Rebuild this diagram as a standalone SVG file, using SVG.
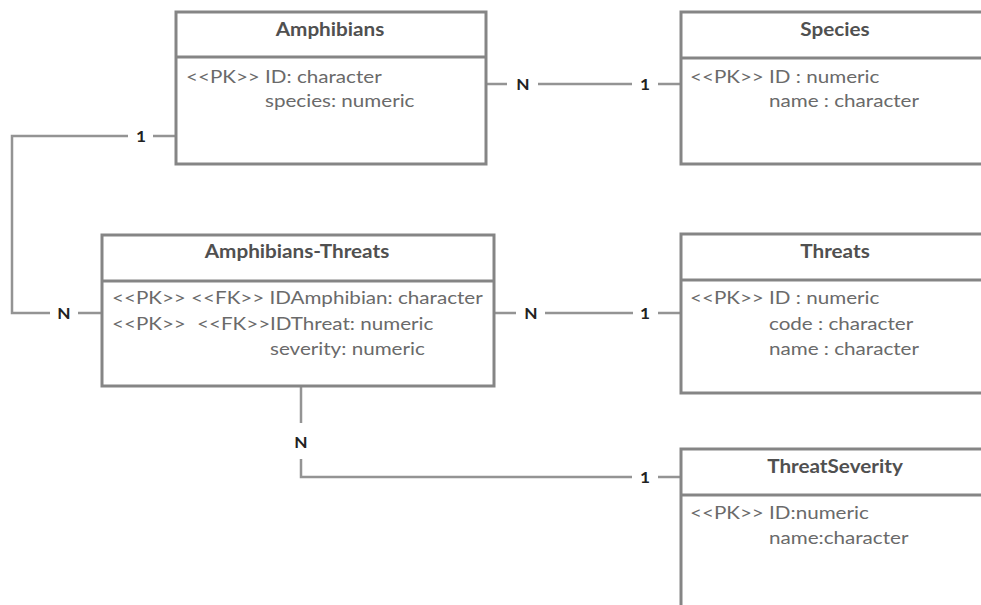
<svg xmlns="http://www.w3.org/2000/svg" width="981" height="605" viewBox="0 0 981 605">
<style>
.box{fill:#fff;stroke:#858585;stroke-width:3}
.div{stroke:#858585;stroke-width:3}
.hdr{font-family:Lato,"Liberation Sans",sans-serif;font-size:18px;font-weight:bold;fill:#505050;text-anchor:middle}
.att{font-family:Lato,"Liberation Sans",sans-serif;font-size:16.5px;fill:#6a6a6a}
.con{fill:none;stroke:#949494;stroke-width:2.5}
.lbl{font-family:Lato,"Liberation Sans",sans-serif;font-size:15px;font-weight:bold;fill:#222;text-anchor:middle}
</style>
<rect width="981" height="605" fill="#fff"/>
<g id="connectors">
<path class="con" d="M486 84H507M538 84H632M658 84H681"/>
<text class="lbl" transform="translate(523 89.5) scale(1.15 1)">N</text>
<text class="lbl" transform="translate(645 89.5) scale(1.15 1)">1</text>
<path class="con" d="M176 136H153M128 136H12V313H50M78 313H102"/>
<text class="lbl" transform="translate(141 141.5) scale(1.15 1)">1</text>
<text class="lbl" transform="translate(64 318.5) scale(1.15 1)">N</text>
<path class="con" d="M494 313H516M545 313H633M658 313H681"/>
<text class="lbl" transform="translate(531 318.5) scale(1.15 1)">N</text>
<text class="lbl" transform="translate(645 318.5) scale(1.15 1)">1</text>
<path class="con" d="M301 386V423M301 459V477H632M658 477H681"/>
<text class="lbl" transform="translate(301 447.5) scale(1.15 1)">N</text>
<text class="lbl" transform="translate(645 482.5) scale(1.15 1)">1</text>
</g>
<g id="amphibians">
<rect class="box" x="176" y="12" width="310" height="152"/>
<line class="div" x1="176" y1="57" x2="486" y2="57"/>
<text class="hdr" transform="translate(330 36) scale(1.15 1)">Amphibians</text>
<text class="att" transform="translate(186 83) scale(1.25 1)">&lt;&lt;PK&gt;&gt; ID: character</text>
<text class="att" transform="translate(265 107) scale(1.25 1)">species: numeric</text>
</g>
<g id="species">
<rect class="box" x="681" y="12" width="308" height="152"/>
<line class="div" x1="681" y1="58" x2="989" y2="58"/>
<text class="hdr" transform="translate(835 36) scale(1.15 1)">Species</text>
<text class="att" transform="translate(690 83) scale(1.25 1)">&lt;&lt;PK&gt;&gt; ID : numeric</text>
<text class="att" transform="translate(769 107) scale(1.25 1)">name : character</text>
</g>
<g id="amphibians-threats">
<rect class="box" x="102" y="235" width="392" height="151"/>
<line class="div" x1="102" y1="281" x2="494" y2="281"/>
<text class="hdr" transform="translate(297 258) scale(1.15 1)">Amphibians-Threats</text>
<text class="att" transform="translate(112 304) scale(1.25 1)">&lt;&lt;PK&gt;&gt; &lt;&lt;FK&gt;&gt; IDAmphibian: character</text>
<text class="att" transform="translate(112 330) scale(1.25 1)">&lt;&lt;PK&gt;&gt;</text>
<text class="att" transform="translate(197 330) scale(1.25 1)">&lt;&lt;FK&gt;&gt;IDThreat: numeric</text>
<text class="att" transform="translate(270 355) scale(1.25 1)">severity: numeric</text>
</g>
<g id="threats">
<rect class="box" x="681" y="234" width="308" height="159"/>
<line class="div" x1="681" y1="280" x2="989" y2="280"/>
<text class="hdr" transform="translate(835 258) scale(1.15 1)">Threats</text>
<text class="att" transform="translate(690 304) scale(1.25 1)">&lt;&lt;PK&gt;&gt; ID : numeric</text>
<text class="att" transform="translate(769 330) scale(1.25 1)">code : character</text>
<text class="att" transform="translate(769 355) scale(1.25 1)">name : character</text>
</g>
<g id="threatseverity">
<rect class="box" x="681" y="449" width="308" height="180"/>
<line class="div" x1="681" y1="495" x2="989" y2="495"/>
<text class="hdr" transform="translate(835 473) scale(1.15 1)">ThreatSeverity</text>
<text class="att" transform="translate(690 519) scale(1.25 1)">&lt;&lt;PK&gt;&gt; ID:numeric</text>
<text class="att" transform="translate(769 544) scale(1.25 1)">name:character</text>
</g>
</svg>
